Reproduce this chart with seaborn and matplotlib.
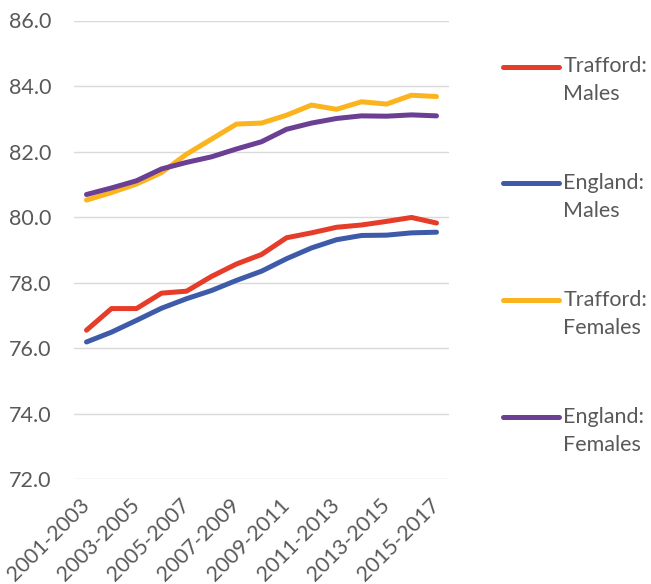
import numpy as np
import pandas as pd
import matplotlib
matplotlib.use("Agg")
import matplotlib.pyplot as plt
import seaborn as sns
from matplotlib.legend_handler import HandlerLine2D

# Three-year rolling periods
periods = ["2001-2003", "2002-2004", "2003-2005", "2004-2006", "2005-2007",
           "2006-2008", "2007-2009", "2008-2010", "2009-2011", "2010-2012",
           "2011-2013", "2012-2014", "2013-2015", "2014-2016", "2015-2017"]

# Life expectancy at birth (years)
trafford_males = [76.55, 77.21, 77.21, 77.68, 77.74, 78.19, 78.57, 78.86,
                  79.37, 79.52, 79.69, 79.76, 79.87, 79.99, 79.82]
england_males = [76.19, 76.49, 76.85, 77.22, 77.51, 77.76, 78.07, 78.35,
                 78.73, 79.06, 79.31, 79.44, 79.45, 79.52, 79.54]
trafford_females = [80.52, 80.75, 81.01, 81.36, 81.92, 82.38, 82.84, 82.87,
                    83.11, 83.42, 83.29, 83.52, 83.45, 83.72, 83.68]
england_females = [80.69, 80.89, 81.11, 81.47, 81.67, 81.84, 82.08, 82.30,
                   82.68, 82.87, 83.01, 83.09, 83.08, 83.12, 83.09]

series_names = ["Trafford:\nMales", "England:\nMales",
                "Trafford:\nFemales", "England:\nFemales"]
series_values = [trafford_males, england_males, trafford_females, england_females]
series_colors = ["#E63C2A", "#3E5BA9", "#FBB41D", "#6B3F93"]

y_ticks = [72, 74, 76, 78, 80, 82, 84, 86]
x_tick_labels = periods[::2]

TEXT = "#595959"
GRID = "#D9D9D9"

rows = []
for name, vals in zip(series_names, series_values):
    for i, v in enumerate(vals):
        rows.append({"pos": i, "period": periods[i], "series": name, "value": v})
df = pd.DataFrame(rows)

sns.set_theme(style="white")
plt.rcParams["font.family"] = ["Lato", "DejaVu Sans"]

W, H = 651, 584
fig = plt.figure(figsize=(W / 100, H / 100), dpi=100)
ax = fig.add_axes([74 / W, 1 - 479.3 / H, 375 / W, (479.3 - 20.5) / H])

sns.lineplot(data=df, x="pos", y="value", hue="series", hue_order=series_names,
             palette=series_colors, linewidth=3.6, ax=ax, legend=True)
for ln in ax.lines:
    ln.set_solid_capstyle("round")
    ln.set_solid_joinstyle("round")

ax.set_xlim(-0.5, len(periods) - 0.5)
ax.set_ylim(72, 86)
ax.set_yticks(y_ticks)
ax.set_yticklabels([f"{t:.1f}" for t in y_ticks])
ax.set_xticks(range(0, len(periods), 2))
ax.set_xticklabels(x_tick_labels, rotation=45, ha="right", va="center",
                   rotation_mode="anchor")
ax.set_xlabel("")
ax.set_ylabel("")
ax.grid(axis="y", color=GRID, linewidth=1.0)
ax.set_axisbelow(True)
for s in ax.spines.values():
    s.set_visible(False)
ax.tick_params(axis="y", length=0, pad=16, labelsize=15.5, labelcolor=TEXT)
ax.tick_params(axis="x", length=0, pad=16, labelsize=15.5, labelcolor=TEXT)


class UpperLineHandler(HandlerLine2D):
    """Legend line aligned with the first line of a two-line label."""

    def __init__(self, shift, **kw):
        super().__init__(**kw)
        self.shift = shift

    def create_artists(self, legend, orig_handle, xdescent, ydescent, width,
                       height, fontsize, trans):
        arts = super().create_artists(legend, orig_handle, xdescent, ydescent,
                                      width, height, fontsize, trans)
        for a in arts:
            a.set_ydata(np.asarray(a.get_ydata()) + self.shift)
            a.set_solid_capstyle("round")
        return arts


old = ax.get_legend()
handles = list(old.legend_handles)
labels = [t.get_text() for t in old.get_texts()]
old.remove()
for h in handles:
    h.set_linewidth(3.6)

leg = fig.legend(handles, labels, loc="upper left",
                 bbox_to_anchor=(503 / W, 1 - 56 / H),
                 frameon=False, fontsize=15.5, handlelength=2.6,
                 handletextpad=0.2, labelspacing=3.2, borderpad=0,
                 borderaxespad=0,
                 handler_map={h: UpperLineHandler(10.0) for h in handles})
for t in leg.get_texts():
    t.set_color(TEXT)
    t.set_linespacing(1.5)

fig.savefig("out.png", dpi=100)
